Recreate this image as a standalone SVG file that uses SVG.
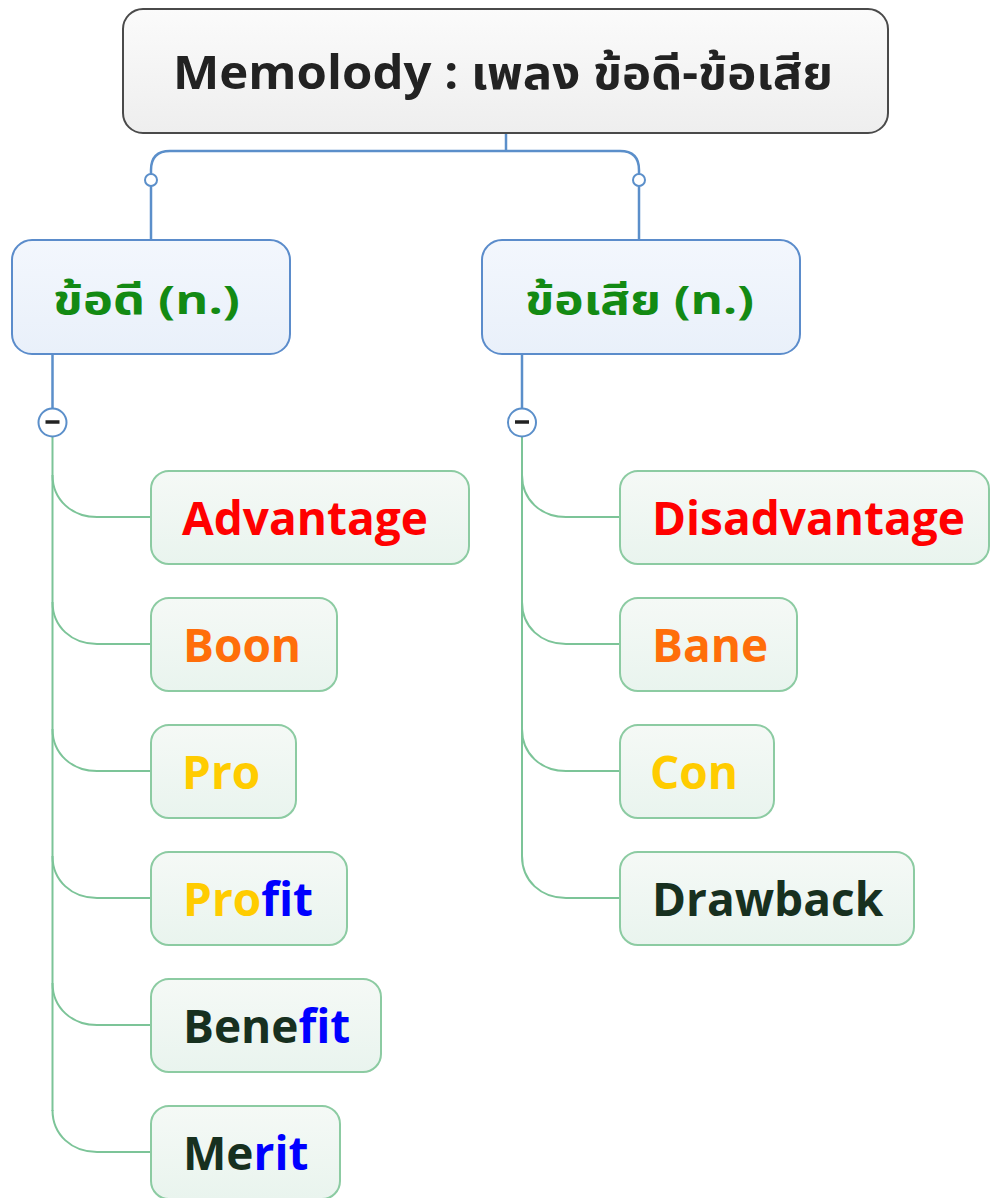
<svg xmlns="http://www.w3.org/2000/svg" width="990" height="1198" viewBox="0 0 990 1198">
<defs>
<linearGradient id="gRoot" x1="0" y1="0" x2="0" y2="1"><stop offset="0" stop-color="#fbfbfb"/><stop offset="1" stop-color="#eeeeee"/></linearGradient>
<linearGradient id="gMain" x1="0" y1="0" x2="0" y2="1"><stop offset="0" stop-color="#f3f7fd"/><stop offset="1" stop-color="#e9f0fa"/></linearGradient>
<linearGradient id="gSub" x1="0" y1="0" x2="0" y2="1"><stop offset="0" stop-color="#f5f9f6"/><stop offset="1" stop-color="#e9f4ee"/></linearGradient>
</defs>
<style>
.root{fill:url(#gRoot);stroke:#4a4a4a;stroke-width:2}
.main{fill:url(#gMain);stroke:#5b8ccb;stroke-width:2}
.sub{fill:url(#gSub);stroke:#8ccba2;stroke-width:2}
.t{font-family:"Open Sans","Noto Sans","Noto Sans Thai","Tahoma","Loma",sans-serif;font-weight:700}
.tr{font-size:47px;fill:#222222}
.tm{font-size:40px;fill:#138a13}
.ts{font-size:46px}
.bl{fill:none;stroke:#5b8fca;stroke-width:2.5}
.gl{fill:none;stroke:#7cc498;stroke-width:2}
.red{fill:#ff0000}.org{fill:#ff6e0a}.yel{fill:#ffcc00}.blu{fill:#0000ff}.drk{fill:#17301f}
.knob{fill:#ffffff;stroke:#5b8fca;stroke-width:2}
.minus{stroke:#222222;stroke-width:3.5}
</style>
<g id="connectors">
<path class="bl" d="M506,133 V151"/>
<path class="bl" d="M151,174 V170 Q151,151 170,151 H620 Q639,151 639,170 V174"/>
<circle class="knob" cx="151" cy="180" r="6"/>
<circle class="knob" cx="639" cy="180" r="6"/>
<path class="bl" d="M151,186 V240 M639,186 V240"/>
<path class="bl" d="M52.5,354 V408 M522,354 V408"/>
<path class="gl" d="M52.5,437 V1111"/>
<path class="gl" d="M52.5,475 C52.5,500 72,517 97,517 H151"/>
<path class="gl" d="M52.5,602 C52.5,627 72,644 97,644 H151"/>
<path class="gl" d="M52.5,729 C52.5,754 72,771 97,771 H151"/>
<path class="gl" d="M52.5,856 C52.5,881 72,898 97,898 H151"/>
<path class="gl" d="M52.5,983 C52.5,1008 72,1025 97,1025 H151"/>
<path class="gl" d="M52.5,1110 C52.5,1135 72,1152 97,1152 H151"/>
<path class="gl" d="M522,437 V856"/>
<path class="gl" d="M522,475 C522,500 541,517 566,517 H620"/>
<path class="gl" d="M522,602 C522,627 541,644 566,644 H620"/>
<path class="gl" d="M522,729 C522,754 541,771 566,771 H620"/>
<path class="gl" d="M522,856 C522,881 541,898 566,898 H620"/>
<circle class="knob" cx="52.5" cy="422.5" r="14"/>
<path class="minus" d="M45.5,422 H59.5"/>
<circle class="knob" cx="522" cy="422.5" r="14"/>
<path class="minus" d="M515,422 H529"/>
</g>
<g id="root">
<rect class="root" x="123" y="9" width="765" height="124" rx="20"/>
<text class="t tr" x="173" y="89" textLength="660" lengthAdjust="spacingAndGlyphs">Memolody : เพลง ข้อดี-ข้อเสีย</text>
</g>
<g id="pros">
<rect class="main" x="12" y="240" width="278" height="114" rx="20"/>
<text class="t tm" x="53" y="314" textLength="187" lengthAdjust="spacingAndGlyphs">ข้อดี (n.)</text>
</g>
<g id="cons">
<rect class="main" x="482" y="240" width="318" height="114" rx="20"/>
<text class="t tm" x="525" y="314" textLength="229" lengthAdjust="spacingAndGlyphs">ข้อเสีย (n.)</text>
</g>
<g id="advantage">
<rect class="sub" x="151" y="471" width="318" height="93" rx="18"/>
<text class="t ts red" x="182" y="535">Advantage</text>
</g>
<g id="boon">
<rect class="sub" x="151" y="598" width="186" height="93" rx="18"/>
<text class="t ts org" x="183" y="662">Boon</text>
</g>
<g id="pro">
<rect class="sub" x="151" y="725" width="145" height="93" rx="18"/>
<text class="t ts yel" x="182" y="789">Pro</text>
</g>
<g id="profit">
<rect class="sub" x="151" y="852" width="196" height="93" rx="18"/>
<text class="t ts" x="183" y="916"><tspan class="yel">Pro</tspan><tspan class="blu">fit</tspan></text>
</g>
<g id="benefit">
<rect class="sub" x="151" y="979" width="230" height="93" rx="18"/>
<text class="t ts" x="183" y="1043"><tspan class="drk">Bene</tspan><tspan class="blu">fit</tspan></text>
</g>
<g id="merit">
<rect class="sub" x="151" y="1106" width="189" height="93" rx="18"/>
<text class="t ts" x="183" y="1170"><tspan class="drk">Me</tspan><tspan class="blu">rit</tspan></text>
</g>
<g id="disadvantage">
<rect class="sub" x="620" y="471" width="369" height="93" rx="18"/>
<text class="t ts red" x="652" y="535">Disadvantage</text>
</g>
<g id="bane">
<rect class="sub" x="620" y="598" width="177" height="93" rx="18"/>
<text class="t ts org" x="652" y="662">Bane</text>
</g>
<g id="con">
<rect class="sub" x="620" y="725" width="154" height="93" rx="18"/>
<text class="t ts yel" x="650" y="789">Con</text>
</g>
<g id="drawback">
<rect class="sub" x="620" y="852" width="294" height="93" rx="18"/>
<text class="t ts drk" x="652" y="916">Drawback</text>
</g>
</svg>
